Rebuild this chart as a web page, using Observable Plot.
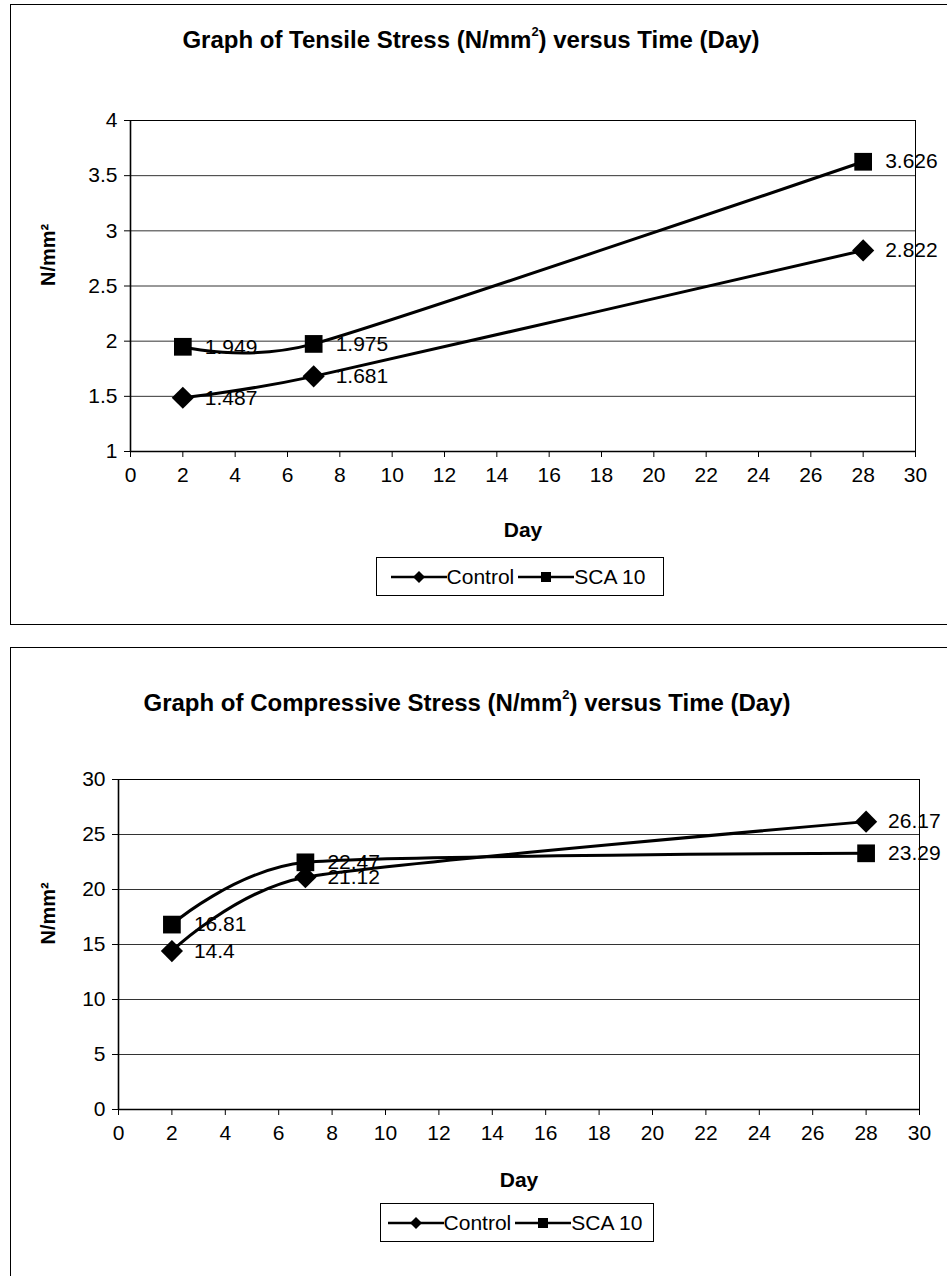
<!DOCTYPE html>
<html><head><meta charset="utf-8">
<script src="https://cdn.jsdelivr.net/npm/d3@7"></script>
<script src="https://cdn.jsdelivr.net/npm/@observablehq/plot@0.6"></script>
<style>
body{margin:0;width:947px;height:1276px;overflow:hidden;background:#fff;position:relative;font-family:"Liberation Sans",Arial,sans-serif;color:#000;}
.box{position:absolute;border:1px solid #000;box-sizing:border-box;}
.title{position:absolute;left:0;width:942px;text-align:center;font-weight:bold;font-size:24px;line-height:26px;white-space:nowrap;}
.title sup{font-size:13px;line-height:0;position:relative;top:-3px;}
.legend{position:absolute;border:1px solid #000;display:flex;align-items:center;justify-content:center;font-size:21px;height:39px;box-sizing:border-box;background:#fff;}
.legend span{margin-right:4px;}
.chart{position:absolute;left:0;}
</style></head><body>
<div class="box" style="left:10px;top:4px;width:960px;height:621px;"></div>
<div class="box" style="left:10px;top:647px;width:960px;height:700px;"></div>
<div class="title" style="top:27px;">Graph of Tensile Stress (N/mm<sup>2</sup>) versus Time (Day)</div>
<div class="title" style="top:690px;left:-4px;">Graph of Compressive Stress (N/mm<sup>2</sup>) versus Time (Day)</div>
<div id="c1" class="chart" style="top:0px;"></div>
<div id="c2" class="chart" style="top:640px;"></div>
<div class="legend" id="lg1" style="left:376px;top:557px;width:288px;"></div>
<div class="legend" id="lg2" style="left:380px;top:1203px;width:274px;"></div>
<script>
// ---- data ----
const days = [2, 7, 28];
const seriesNames = ["Control", "SCA 10"];
const tensileControl = [1.487, 1.681, 2.822];
const tensileSCA = [1.949, 1.975, 3.626];
const compControl = [14.4, 21.12, 26.17];
const compSCA = [16.81, 22.47, 23.29];
const xTicks = [0, 2, 4, 6, 8, 10, 12, 14, 16, 18, 20, 22, 24, 26, 28, 30];
const tensileTicks = [1, 1.5, 2, 2.5, 3, 3.5, 4];
const compTicks = [0, 5, 10, 15, 20, 25, 30];

function rowsOf(control, sca) {
  return [
    ...days.map((d, i) => ({day: d, value: control[i], series: seriesNames[0]})),
    ...days.map((d, i) => ({day: d, value: sca[i], series: seriesNames[1]}))
  ];
}

// smoothed line similar to spreadsheet "smoothed line" option
const smooth = d3.curveCardinal.tension(0.4);

function chart({height, mt, mb, ml, mr, yTicks, control, sca, dayDy, labelDx}) {
  const rows = rowsOf(control, sca);
  const yDomain = [yTicks[0], yTicks[yTicks.length - 1]];
  return Plot.plot({
    width: 947, height,
    marginTop: mt, marginBottom: mb, marginLeft: ml, marginRight: mr,
    style: {fontFamily: "Liberation Sans, Arial, sans-serif", fontSize: "21px", color: "#000", background: "transparent", overflow: "visible"},
    x: {domain: [xTicks[0], xTicks[xTicks.length - 1]]},
    y: {domain: yDomain},
    marks: [
      Plot.gridY(yTicks, {stroke: "#333", strokeOpacity: 1, strokeWidth: 1}),
      Plot.frame({stroke: "#000", strokeWidth: 1}),
      Plot.ruleX([xTicks[0]], {stroke: "#000", strokeWidth: 1.6}),
      Plot.ruleY([yDomain[0]], {stroke: "#000", strokeWidth: 1.6}),
      Plot.axisX(xTicks, {tickSize: 6, tickPadding: 10, fontSize: 21, label: null, tickFormat: d => String(d)}),
      Plot.axisY(yTicks, {tickSize: 6, tickPadding: 7, fontSize: 21, label: null, tickFormat: d => String(d)}),
      Plot.line(rows, {x: "day", y: "value", z: "series", curve: smooth, stroke: "#000", strokeWidth: 3}),
      Plot.dot(rows.filter(d => d.series === seriesNames[0]), {x: "day", y: "value", symbol: "diamond2", r: 10, fill: "#000", stroke: null}),
      Plot.dot(rows.filter(d => d.series === seriesNames[1]), {x: "day", y: "value", symbol: "square", r: 10, fill: "#000", stroke: null}),
      Plot.text(rows, {x: "day", y: "value", text: d => String(d.value), dx: 22, textAnchor: "start", fontSize: 21, fill: "#000"}),
      Plot.text(["Day"], {text: d => d, frameAnchor: "bottom", dy: dayDy, fontWeight: "bold", fontSize: 21, fill: "#000"}),
      Plot.text(["N/mm²"], {text: d => d, frameAnchor: "left", dx: labelDx, rotate: -90, fontWeight: "bold", fontSize: 20, fill: "#000"})
    ]
  });
}

document.getElementById("c1").append(chart({height: 640, mt: 120, mb: 189, ml: 130, mr: 32, yTicks: tensileTicks, control: tensileControl, sca: tensileSCA, dayDy: 85, labelDx: -82}));
document.getElementById("c2").append(chart({height: 636, mt: 139, mb: 167, ml: 118, mr: 28, yTicks: compTicks, control: compControl, sca: compSCA, dayDy: 77, labelDx: -70}));

function legendHTML() {
  const diamond = `<svg width="56" height="20"><line x1="0" y1="10" x2="56" y2="10" stroke="#000" stroke-width="2.5"/><path d="M28,4L34,10L28,16L22,10Z" fill="#000"/></svg>`;
  const square = `<svg width="56" height="20"><line x1="0" y1="10" x2="56" y2="10" stroke="#000" stroke-width="2.5"/><rect x="23" y="5" width="10" height="10" fill="#000"/></svg>`;
  return `${diamond}<span>${seriesNames[0]}</span>${square}<span>${seriesNames[1]}</span>`;
}
document.getElementById("lg1").innerHTML = legendHTML();
document.getElementById("lg2").innerHTML = legendHTML();
</script>
</body></html>
